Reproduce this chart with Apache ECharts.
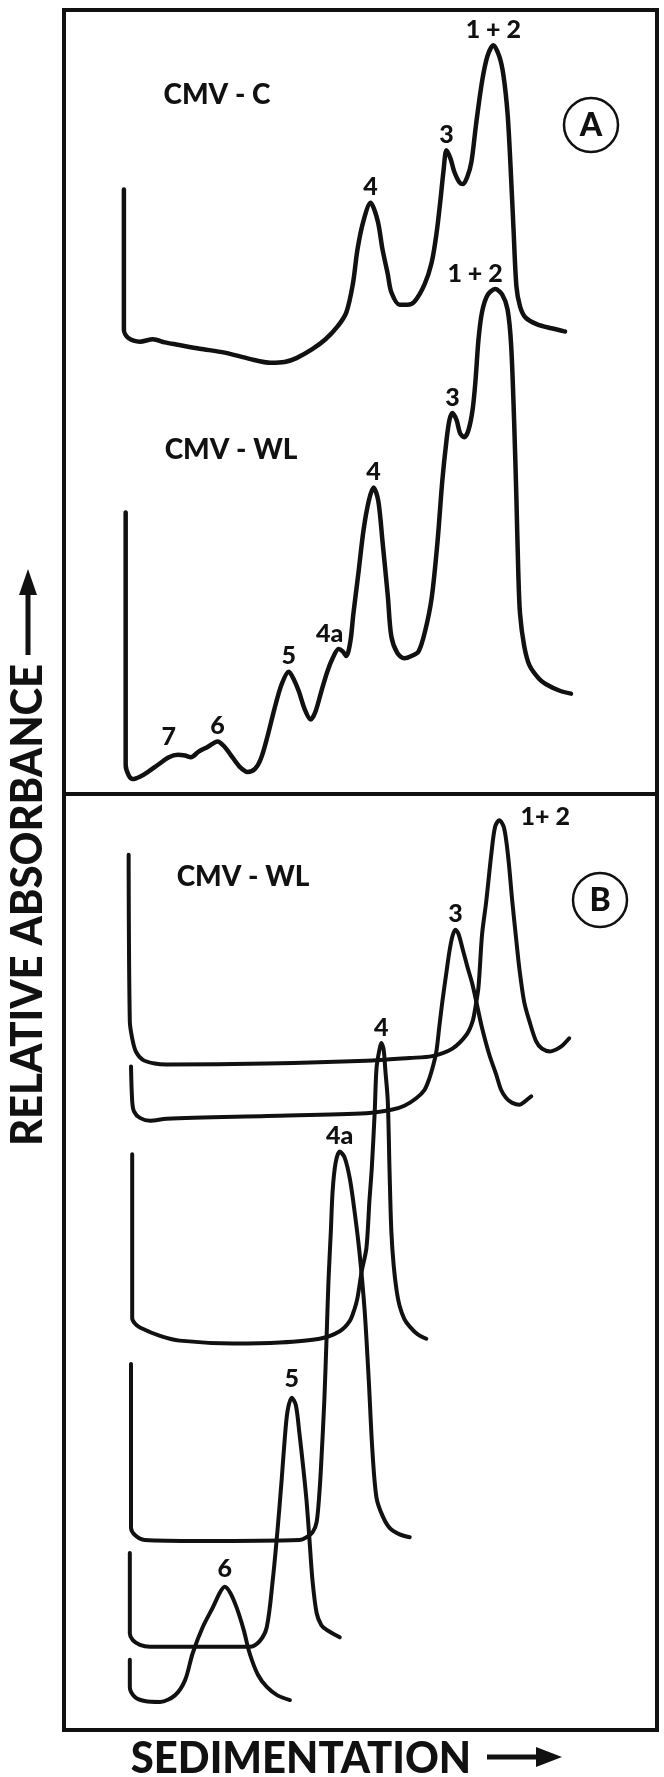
<!DOCTYPE html>
<html>
<head>
<meta charset="utf-8">
<script src="https://cdn.jsdelivr.net/npm/echarts@6/dist/echarts.min.js"></script>
<style>
  html, body { margin: 0; padding: 0; background: #ffffff; }
  #chart { width: 664px; height: 1777px; }
</style>
</head>
<body>
<div id="chart"></div>
<script>
// ---------- DATA (sedimentation position 0-100, relative absorbance 0-100 per panel) ----------
// Panel A: CMV-C profile
const cmvC_A = [[10.1,77.1],[10.1,59.2],[10.8,58.2],[12.8,57.7],[15.0,58.0],[17.0,57.6],[19.2,57.3],[22.9,56.8],[27.1,56.3],[31.3,55.5],[34.9,55.0],[37.2,55.1],[39.2,55.6],[41.8,56.7],[44.1,58.0],[46.1,59.6],[47.6,61.4],[48.7,65.0],[49.5,69.5],[50.5,73.1],[51.7,75.4],[52.9,73.1],[53.7,69.5],[54.6,66.3],[55.2,64.0],[56.6,62.4],[57.9,62.4],[59.1,62.8],[60.8,65.0],[62.0,67.8],[62.8,71.4],[63.5,75.9],[64.0,79.5],[64.5,82.1],[65.2,81.0],[65.8,79.4],[66.7,78.0],[67.3,77.8],[68.0,78.7],[68.7,80.6],[69.5,85.5],[70.5,90.9],[71.4,94.1],[72.4,95.5],[73.4,94.1],[74.1,91.7],[74.8,86.8],[75.3,80.1],[75.8,72.1],[76.3,64.7],[76.9,62.2],[77.8,60.8],[79.8,59.9],[82.2,59.4],[84.5,59.0]];
// Panel A: CMV-WL profile
const cmvWL_A = [[10.4,35.9],[10.4,3.7],[10.9,2.4],[11.6,1.9],[12.8,2.2],[14.1,2.8],[15.8,3.7],[17.7,4.7],[19.2,5.0],[20.4,4.9],[21.4,4.7],[22.7,5.4],[24.2,6.0],[25.9,6.7],[27.1,6.0],[28.1,5.0],[29.6,3.5],[31.0,2.8],[32.2,3.2],[33.2,4.5],[34.3,7.3],[35.5,10.9],[36.7,14.0],[37.9,15.6],[38.7,14.7],[39.6,13.1],[40.6,10.8],[41.6,9.5],[42.4,10.5],[43.4,13.1],[44.4,15.6],[45.3,17.3],[46.3,18.5],[47.0,18.2],[47.6,17.6],[48.3,19.5],[48.8,23.0],[49.7,28.5],[50.5,33.6],[51.4,37.4],[52.2,39.1],[53.0,37.4],[53.7,32.3],[54.6,25.3],[55.2,20.1],[56.2,18.0],[57.4,17.3],[58.6,17.6],[59.8,18.2],[60.9,20.8],[62.0,25.0],[63.0,32.3],[63.8,40.0],[64.5,45.1],[65.0,47.7],[65.5,48.6],[66.2,47.7],[66.8,46.0],[67.5,45.5],[68.2,46.4],[68.9,49.0],[69.4,52.8],[69.9,58.0],[70.5,61.5],[71.4,63.6],[72.7,64.4],[73.9,63.7],[74.8,61.8],[75.4,57.3],[75.9,47.7],[76.3,37.4],[76.6,28.5],[76.9,23.0],[77.6,18.9],[78.5,16.4],[80.1,14.7],[81.3,14.0],[83.5,13.2],[85.5,12.8]];
// Panel B: CMV-WL isolated components
const wl12_B = [[10.9,93.5],[11.1,75.7],[11.5,73.9],[12.1,72.5],[13.3,71.6],[15.3,71.2],[17.3,71.1],[34.2,71.2],[51.0,71.5],[58.3,71.8],[62.1,72.0],[65.5,72.8],[67.9,74.3],[68.9,75.7],[69.4,77.3],[69.9,79.4],[70.5,85.0],[71.2,88.5],[72.1,93.8],[72.7,96.5],[73.4,97.2],[74.2,96.4],[74.9,93.3],[75.6,88.5],[76.3,84.2],[76.8,81.3],[77.6,77.8],[78.5,75.7],[79.6,73.6],[80.6,72.8],[82.0,72.5],[83.0,72.7],[84.0,73.1],[85.2,73.9]];
const wl3_B = [[11.3,70.9],[11.5,67.2],[11.8,66.1],[12.8,65.4],[14.5,65.1],[17.3,65.3],[34.2,65.6],[51.0,65.9],[55.4,66.3],[57.4,66.7],[59.4,67.5],[60.8,68.4],[61.6,69.6],[62.3,71.1],[62.8,72.5],[63.3,75.2],[63.8,77.8],[64.5,81.0],[65.0,83.2],[65.5,84.8],[66.0,85.5],[66.5,85.1],[67.2,83.5],[68.0,81.6],[68.9,79.6],[69.7,77.3],[70.5,75.0],[71.7,72.2],[72.9,70.0],[73.7,68.4],[74.6,67.5],[75.6,67.0],[76.8,66.8],[77.8,67.2],[78.8,67.7]];
const wl4_B = [[11.5,61.5],[11.5,44.0],[12.0,43.4],[12.8,43.0],[16.2,42.1],[19.5,41.6],[28.5,41.3],[36.4,41.4],[43.1,41.8],[46.5,42.6],[48.2,43.7],[49.0,45.0],[49.5,46.2],[50.2,49.0],[51.0,51.5],[51.5,56.5],[51.9,60.0],[52.4,66.1],[52.7,70.7],[53.2,72.7],[53.5,73.4],[53.9,72.7],[54.2,70.4],[54.6,67.2],[54.9,59.7],[55.2,53.3],[55.6,49.6],[56.1,46.9],[56.6,45.3],[57.4,43.9],[58.3,43.1],[59.6,42.3],[61.1,41.8]];
const wl4a_B = [[11.3,39.1],[11.3,21.6],[12.0,20.8],[13.6,20.3],[22.9,20.2],[39.7,20.3],[40.9,20.6],[41.9,21.1],[42.6,22.2],[43.1,25.6],[43.4,28.8],[43.9,35.2],[44.3,42.3],[44.6,48.0],[45.0,53.3],[45.3,57.6],[45.8,60.6],[46.5,61.8],[47.3,61.2],[48.2,58.9],[49.0,55.4],[49.8,51.2],[50.7,44.8],[51.4,37.3],[52.0,29.9],[52.7,24.8],[53.7,22.9],[54.9,21.6],[56.6,20.9],[58.3,20.6]];
const wl5_B = [[11.1,18.9],[11.1,10.3],[11.6,9.6],[12.8,9.1],[14.5,8.9],[31.3,8.9],[33.0,9.5],[34.2,11.0],[35.2,16.0],[36.0,21.3],[36.7,26.7],[37.2,30.9],[37.7,34.1],[38.4,35.5],[39.1,34.7],[39.7,31.7],[40.4,27.7],[40.9,24.5],[41.4,20.3],[41.9,16.0],[42.6,12.5],[43.4,11.2],[44.3,10.7],[46.5,9.9]];
const wl6_B = [[11.1,7.5],[11.1,4.6],[12.0,3.5],[13.6,3.1],[16.2,3.0],[18.7,3.7],[20.4,5.3],[21.7,8.2],[23.4,11.0],[25.1,13.1],[26.3,14.7],[27.1,15.3],[28.0,14.7],[29.1,13.1],[30.3,10.7],[31.3,8.2],[32.7,5.9],[34.2,4.6],[36.0,3.7],[38.1,3.2]];
// Peak labels: [text, sedimentation, absorbance]
const peakLabelsA = [['1 + 2',72.4,95.5],['3',64.5,82.1],['4',51.7,75.4],['1 + 2',72.7,64.4],['3',65.5,48.6],['4',52.2,39.1],['4a',46.3,18.5],['5',37.9,15.6],['6',25.9,6.7],['7',19.2,5.0]];
const peakLabelsB = [['1+ 2',73.4,97.2],['3',66.0,85.5],['4',53.5,73.4],['4a',46.5,61.8],['5',38.4,35.5],['6',27.1,15.3]];
const sampleNamesA = ['CMV - C', 'CMV - WL'];
const sampleNamesB = ['CMV - WL'];
const panelTags = ['A', 'B'];
const axisTitles = ['RELATIVE ABSORBANCE', 'SEDIMENTATION'];

// ---------- STYLE ----------
const INK = '#111111';
const FONT = 'Lato, "DejaVu Sans", sans-serif';
const labelOffsetA = { 3: [-20, 0], 6: [-9, 0], 9: [-9, -2] };
const labelOffsetB = { 0: [46, 12], 4: [0, -3], 5: [0, -2] };

function curve(data, idx, w) {
  return {
    type: 'line', xAxisIndex: idx, yAxisIndex: idx, data: data,
    smooth: 0.3, symbol: 'none', silent: true,
    lineStyle: { color: INK, width: w, cap: 'round', join: 'round' }
  };
}
function labels(list, idx, offsets) {
  return {
    type: 'scatter', xAxisIndex: idx, yAxisIndex: idx, symbolSize: 0, silent: true, z: 5,
    itemStyle: { color: INK, opacity: 1 },
    label: { show: true, position: 'top', distance: 3, color: INK, fontFamily: FONT, fontWeight: 900, fontSize: 25, opacity: 1 },
    data: list.map((p, i) => ({
      value: [p[1], p[2]],
      label: { formatter: p[0], offset: offsets[i] || [0, 0] }
    }))
  };
}

const chart = echarts.init(document.getElementById('chart'), null, { renderer: 'canvas' });
chart.setOption({
  backgroundColor: '#ffffff',
  animation: false,
  grid: [
    { left: 64, top: 10, width: 593, height: 784, show: true, borderColor: INK, borderWidth: 4 },
    { left: 64, top: 794, width: 593, height: 936, show: true, borderColor: INK, borderWidth: 4 }
  ],
  xAxis: [
    { type: 'value', gridIndex: 0, min: 0, max: 100, show: false },
    { type: 'value', gridIndex: 1, min: 0, max: 100, show: false }
  ],
  yAxis: [
    { type: 'value', gridIndex: 0, min: 0, max: 100, show: false },
    { type: 'value', gridIndex: 1, min: 0, max: 100, show: false }
  ],
  series: [
    curve(cmvC_A, 0, 4.5), curve(cmvWL_A, 0, 4.5),
    curve(wl12_B, 1, 4), curve(wl3_B, 1, 4), curve(wl4_B, 1, 4), curve(wl4a_B, 1, 4), curve(wl5_B, 1, 4), curve(wl6_B, 1, 4),
    labels(peakLabelsA, 0, labelOffsetA), labels(peakLabelsB, 1, labelOffsetB)
  ],
  graphic: [
    { type: 'text', x: 217, y: 95, style: { text: sampleNamesA[0], font: '900 28px ' + FONT, fill: INK, align: 'center', verticalAlign: 'middle' } },
    { type: 'text', x: 231, y: 450, style: { text: sampleNamesA[1], font: '900 28px ' + FONT, fill: INK, align: 'center', verticalAlign: 'middle' } },
    { type: 'text', x: 243, y: 877, style: { text: sampleNamesB[0], font: '900 28px ' + FONT, fill: INK, align: 'center', verticalAlign: 'middle' } },
    { type: 'circle', shape: { cx: 591, cy: 125, r: 27 }, style: { fill: 'none', stroke: INK, lineWidth: 2.5 } },
    { type: 'text', x: 591, y: 126, style: { text: panelTags[0], font: '900 32px ' + FONT, fill: INK, align: 'center', verticalAlign: 'middle' } },
    { type: 'circle', shape: { cx: 600, cy: 900, r: 27 }, style: { fill: 'none', stroke: INK, lineWidth: 2.5 } },
    { type: 'text', x: 600, y: 901, style: { text: panelTags[1], font: '900 32px ' + FONT, fill: INK, align: 'center', verticalAlign: 'middle' } },
    // y-axis title + arrow
    { type: 'text', x: 28, y: 905, rotation: Math.PI / 2, scaleX: 0.95, style: { text: axisTitles[0], font: '900 44px ' + FONT, fill: INK, align: 'center', verticalAlign: 'middle' } },
    { type: 'line', shape: { x1: 28, y1: 655, x2: 28, y2: 592 }, style: { stroke: INK, lineWidth: 5 } },
    { type: 'polygon', shape: { points: [[28, 569], [19, 595], [37, 595]] }, style: { fill: INK } },
    // x-axis title + arrow
    { type: 'text', x: 301, y: 1759, scaleX: 0.95, style: { text: axisTitles[1], font: '900 44px ' + FONT, fill: INK, align: 'center', verticalAlign: 'middle' } },
    { type: 'line', shape: { x1: 487, y1: 1757, x2: 540, y2: 1757 }, style: { stroke: INK, lineWidth: 5 } },
    { type: 'polygon', shape: { points: [[562, 1757], [536, 1747], [536, 1767]] }, style: { fill: INK } }
  ]
});
</script>
</body>
</html>
